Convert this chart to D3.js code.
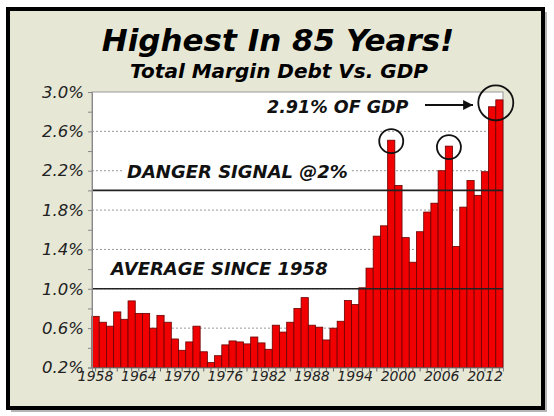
<!DOCTYPE html>
<html>
<head>
<meta charset="utf-8">
<script src="https://cdn.jsdelivr.net/npm/d3@7"></script>
<style>
  html, body { margin: 0; padding: 0; background: #fff; }
  svg { display: block; font-family: "DejaVu Sans", Verdana, sans-serif; }
</style>
</head>
<body>
<svg id="chart" width="554" height="416"></svg>
<script>
// ---- data ----
const years = d3.range(1958, 2015);
const marginDebtPct = [
  0.72, 0.66, 0.62, 0.765, 0.69, 0.877, 0.75, 0.75, 0.60, 0.73,
  0.66, 0.49, 0.375, 0.46, 0.62, 0.36, 0.25, 0.32, 0.43, 0.47,
  0.46, 0.44, 0.51, 0.45, 0.385, 0.63, 0.56, 0.66, 0.80, 0.91,
  0.63, 0.61, 0.48, 0.60, 0.67, 0.88, 0.84, 1.01, 1.21, 1.535,
  1.64, 2.51, 2.05, 1.52, 1.27, 1.58, 1.78, 1.87, 2.20, 2.45,
  1.43, 1.83, 2.10, 1.95, 2.19, 2.85, 2.92
];
const yTicks = [0.2, 0.6, 1.0, 1.4, 1.8, 2.2, 2.6, 3.0];
const yMinorTicks = d3.range(0.2, 3.01, 0.2);
const xTickYears = [1958, 1964, 1970, 1976, 1982, 1988, 1994, 2000, 2006, 2012];
const refLines = [
  { value: 2.0, label: 'DANGER SIGNAL @2%' },
  { value: 1.0, label: 'AVERAGE SINCE 1958' }
];
const circledYears = [1999, 2007];
const latestLabel = '2.91% OF GDP';

// ---- layout ----
const svg = d3.select('#chart');
const M = { left: 92, right: 503, top: 92, bottom: 367.5 };

// frame with shadow
svg.append('rect').attr('x', 11).attr('y', 12).attr('width', 536).attr('height', 400)
  .attr('fill', '#b5b5b5');
svg.append('rect').attr('x', 8).attr('y', 9).attr('width', 535).attr('height', 399)
  .attr('fill', '#e7e7d6').attr('stroke', '#000').attr('stroke-width', 4);

// titles
svg.append('text').attr('x', 278).attr('y', 51).attr('text-anchor', 'middle')
  .attr('font-size', 31).attr('font-weight', 'bold').attr('font-style', 'italic')
  .attr('fill', '#000').text('Highest In 85 Years!');
svg.append('text').attr('x', 279).attr('y', 78).attr('text-anchor', 'middle')
  .attr('font-size', 20).attr('font-weight', 'bold').attr('font-style', 'italic')
  .attr('fill', '#000').text('Total Margin Debt Vs. GDP');

// scales
const x = d3.scaleBand().domain(years).range([M.left, M.right]).padding(0);
const y = d3.scaleLinear().domain([0.2, 3.0]).range([M.bottom, M.top]);

// plot area
svg.append('rect').attr('x', M.left).attr('y', M.top)
  .attr('width', M.right - M.left).attr('height', M.bottom - M.top)
  .attr('fill', '#fff').attr('stroke', '#999').attr('stroke-width', 1);

// dashed gridlines
svg.append('g').selectAll('line').data(yTicks.filter(v => v > 0.2 && v < 3.0)).join('line')
  .attr('x1', M.left).attr('x2', M.right)
  .attr('y1', d => y(d)).attr('y2', d => y(d))
  .attr('stroke', '#999').attr('stroke-width', 1).attr('stroke-dasharray', '2,2');

// bars
svg.append('g').selectAll('rect').data(years).join('rect')
  .attr('x', d => x(d)).attr('width', x.bandwidth())
  .attr('y', (d, i) => y(marginDebtPct[i]))
  .attr('height', (d, i) => y(0.2) - y(marginDebtPct[i]))
  .attr('fill', '#f00000').attr('stroke', '#6a0000').attr('stroke-width', 0.8);

// reference lines
svg.append('g').selectAll('line').data(refLines).join('line')
  .attr('x1', M.left).attr('x2', M.right)
  .attr('y1', d => y(d.value)).attr('y2', d => y(d.value))
  .attr('stroke', '#222').attr('stroke-width', 1.6);

// reference labels with white backing
const refPos = [{ x: 127, dy: -12 }, { x: 111, dy: -14 }];
refLines.forEach((r, i) => {
  const t = svg.append('text').attr('x', refPos[i].x).attr('y', y(r.value) + refPos[i].dy)
    .attr('font-size', 18).attr('font-weight', 'bold').attr('font-style', 'italic')
    .attr('fill', '#111').text(r.label);
  const bb = t.node().getBBox();
  svg.insert('rect', () => t.node()).attr('x', bb.x - 4).attr('y', bb.y)
    .attr('width', bb.width + 8).attr('height', bb.height).attr('fill', '#fff');
});

// y axis
const yAxisG = svg.append('g').attr('transform', `translate(${M.left},0)`);
yAxisG.call(d3.axisLeft(y).tickValues(yMinorTicks).tickSize(4).tickFormat(''))
  .call(g => g.select('.domain').attr('stroke', '#888'))
  .call(g => g.selectAll('.tick line').attr('stroke', '#888'));
yAxisG.append('g').call(d3.axisLeft(y).tickValues(yTicks).tickSize(0).tickPadding(8)
    .tickFormat(d => d3.format('.1f')(d) + '%'))
  .call(g => g.select('.domain').remove())
  .call(g => g.selectAll('text').attr('font-size', 16.5).attr('font-style', 'italic')
    .attr('font-family', '"DejaVu Sans", Verdana, sans-serif').attr('fill', '#222'));

// x axis
const xAxisG = svg.append('g').attr('transform', `translate(0,${M.bottom})`);
xAxisG.call(d3.axisBottom(x).tickSize(4).tickFormat(''))
  .call(g => g.select('.domain').attr('stroke', '#888'))
  .call(g => g.selectAll('.tick line').attr('stroke', '#666'));
xAxisG.append('g').call(d3.axisBottom(x).tickValues(xTickYears).tickSize(0).tickPadding(4))
  .call(g => g.select('.domain').remove())
  .call(g => g.selectAll('text').attr('font-size', 14).attr('font-style', 'italic')
    .attr('font-family', '"DejaVu Sans", Verdana, sans-serif').attr('fill', '#222'));

// circled peaks
svg.append('g').selectAll('circle').data(circledYears).join('circle')
  .attr('cx', d => x(d) + x.bandwidth() / 2)
  .attr('cy', d => y(marginDebtPct[years.indexOf(d)]) + 1)
  .attr('r', 12).attr('fill', 'none').attr('stroke', '#111').attr('stroke-width', 1.8);

// latest circle around last two bars
const lastYear = years[years.length - 1];
svg.append('circle')
  .attr('cx', x(lastYear)).attr('cy', y(marginDebtPct[marginDebtPct.length - 1]) + 3)
  .attr('r', 17.5).attr('fill', 'none').attr('stroke', '#111').attr('stroke-width', 1.8);

// latest label + arrow
svg.append('text').attr('x', 267).attr('y', 113).attr('font-size', 17.5)
  .attr('font-weight', 'bold').attr('font-style', 'italic').attr('fill', '#111').text(latestLabel);
svg.append('defs').append('marker').attr('id', 'arrow').attr('viewBox', '0 0 10 10')
  .attr('refX', 10).attr('refY', 5).attr('markerWidth', 6).attr('markerHeight', 4.5)
  .attr('orient', 'auto').append('path').attr('d', 'M0,0L10,5L0,10Z').attr('fill', '#111');
svg.append('line').attr('x1', 425).attr('x2', 473).attr('y1', 105).attr('y2', 105)
  .attr('stroke', '#111').attr('stroke-width', 2.2).attr('marker-end', 'url(#arrow)');
</script>
</body>
</html>
